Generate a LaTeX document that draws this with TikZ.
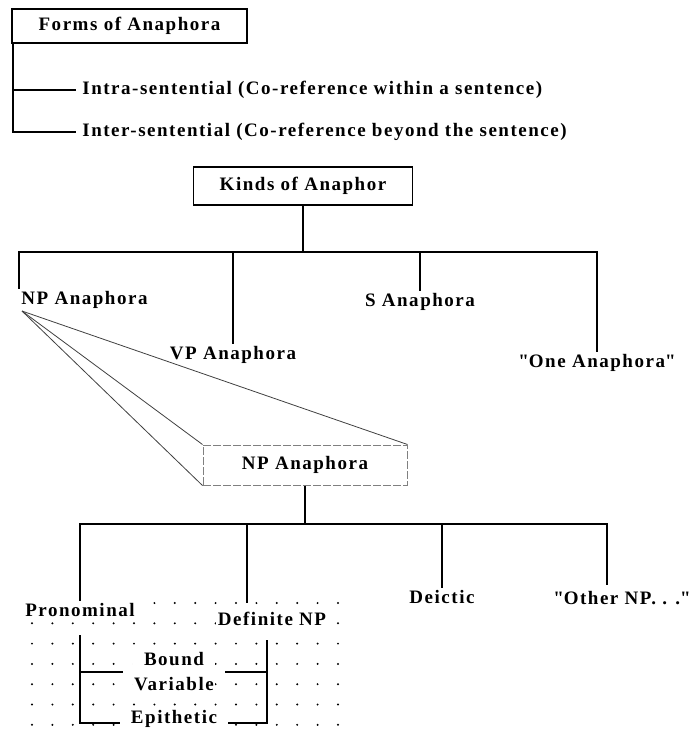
\documentclass[tikz,border=0pt]{standalone}
\usepackage{fontspec}
\setmainfont[LetterSpace=8]{Liberation Serif}
\begin{document}
\begin{tikzpicture}[x=0.5pt,y=-0.5pt]
	\tikzset{every node/.style={font=\fontsize{9.5}{12.5}\selectfont\bfseries,inner sep=1pt}}
	\tikzset{titlebox/.style={draw,line width=0.7pt,inner sep=0pt}}
	\tikzset{branch/.style={line width=0.9pt}}
	\tikzset{fan/.style={black!75,line width=0.4pt}}
	\tikzset{leaf/.style={fill=white}}
	\useasboundingbox (0,0) rectangle (694,730);
	\foreach \i in {0,...,15} \foreach \j in {0,...,6}
		\fill (32+20.4*\i,603+20.3*\j) circle (0.55pt);
	\node[titlebox,minimum width=117.5pt,minimum height=17pt] (forms) at (129.5,26) {Forms of Anaphora};
	\node[anchor=west,inner sep=3pt] (intra) at (76,90) {Intra-sentential (Co-reference within a sentence)};
	\node[anchor=west,inner sep=3pt] (inter) at (76,132) {Inter-sentential (Co-reference beyond the sentence)};
	\draw[branch] ([xshift=1pt]forms.south west) |- (intra.west);
	\draw[branch] ([xshift=1pt]forms.south west) |- (inter.west);
	\node[titlebox,minimum width=109.5pt,minimum height=19pt] (kinds) at (303,186) {Kinds of Anaphor};
	\coordinate (kbar) at (303,252);
	\node[anchor=north west] (np) at (19,289) {NP Anaphora};
	\node[anchor=north] (vp) at (233,344) {VP Anaphora};
	\node[anchor=north] (s) at (420,291) {S Anaphora};
	\node[anchor=north] (one) at (597,352) {\textquotedbl One Anaphora\textquotedbl};
	\draw[branch] (kinds) -- (kbar);
	\draw[branch] (kbar) -| (np.north west);
	\draw[branch] (kbar) -| (vp.north);
	\draw[branch] (kbar) -| (s.north);
	\draw[branch] (kbar) -| (one.north);
	\node[draw=gray,dash pattern=on 4pt off 1pt,line width=0.5pt,minimum width=102pt,minimum height=20pt] (npbox) at (305,465) {NP Anaphora};
	\draw[fan] ([xshift=1.5pt]np.south west) -- (npbox.north west);
	\draw[fan] ([xshift=1.5pt]np.south west) -- (npbox.south west);
	\draw[fan] ([xshift=1.5pt]np.south west) -- (npbox.north east);
	\coordinate (nbar) at (305,524);
	\node[leaf,anchor=north] (pron) at (80,601) {Pronominal};
	\coordinate (dtop) at (247,603);
	\node[leaf] (defnp) at (272,619) {Definite NP};
	\node[leaf,anchor=north] (deic) at (442,588) {Deictic};
	\coordinate (otop) at (607,585);
	\node[leaf] (other) at (622,598) {\textquotedbl Other NP. . .\textquotedbl};
	\draw[branch] (npbox) -- (nbar);
	\draw[branch] (nbar) -| (pron.north);
	\draw[branch] (nbar) -| (dtop);
	\draw[branch] (nbar) -| (deic.north);
	\draw[branch] (nbar) -| (otop);
	\node[leaf,align=center,inner sep=0.5pt] (bv) at (174,672) {Bound\\Variable};
	\node[leaf,anchor=base,inner sep=0.5pt] (epi) at (174,723) {Epithetic};
	\draw[branch,shorten <=8pt,shorten >=5pt] (pron.south) |- (bv.west);
	\draw[branch,shorten <=8pt,shorten >=5pt] (pron.south) |- (epi.base west);
	\draw[branch,shorten <=6pt,shorten >=5pt] ([xshift=-2.5pt]defnp.south) |- (bv.east);
	\draw[branch,shorten <=6pt,shorten >=5pt] ([xshift=-2.5pt]defnp.south) |- (epi.base east);
\end{tikzpicture}
\end{document}
